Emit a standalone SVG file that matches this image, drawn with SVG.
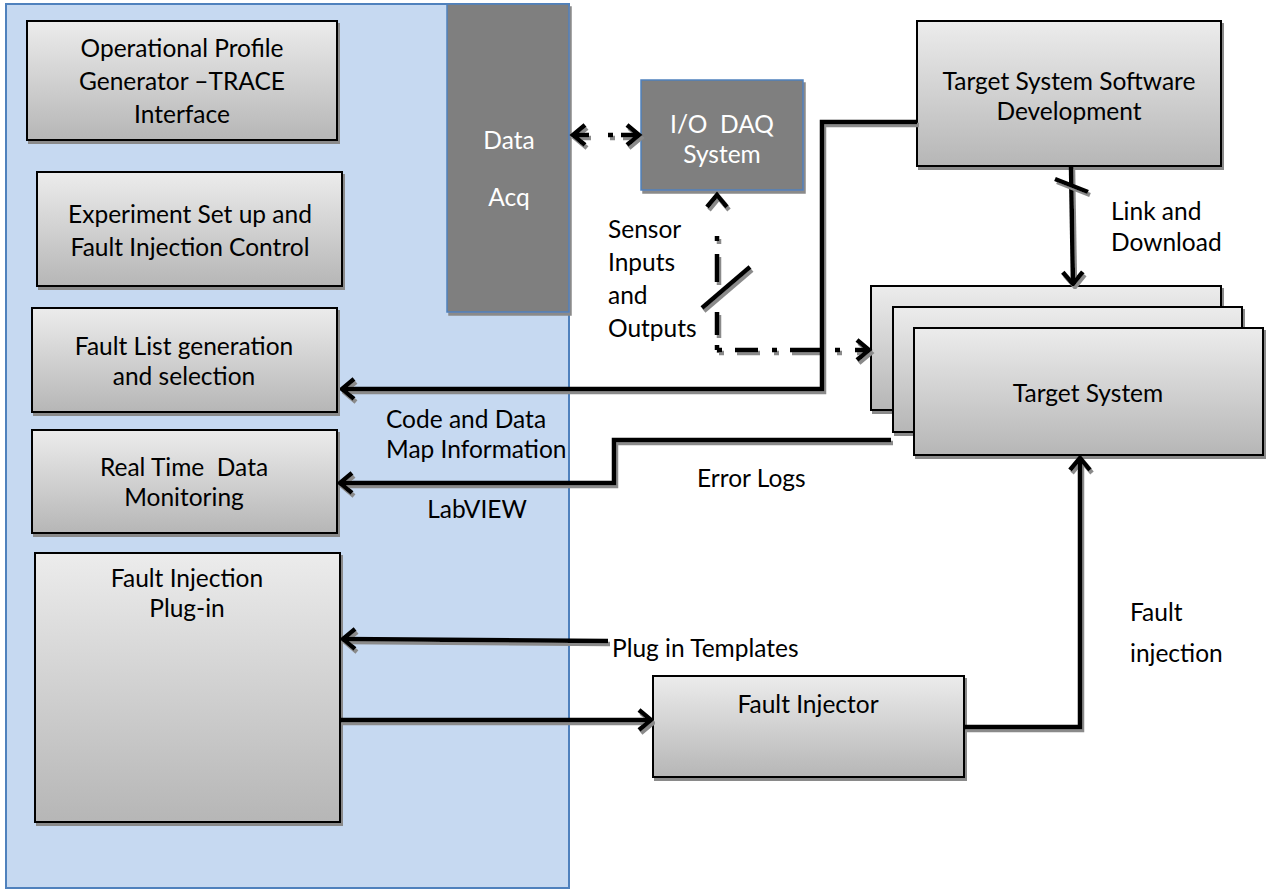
<svg xmlns="http://www.w3.org/2000/svg" width="1266" height="892" viewBox="0 0 1266 892">
<defs>
<linearGradient id="g" x1="0" y1="0" x2="0" y2="1"><stop offset="0" stop-color="#ececec"/><stop offset="1" stop-color="#b6b6b6"/></linearGradient>
<filter id="sh" filterUnits="userSpaceOnUse" x="0" y="0" width="1266" height="892"><feDropShadow dx="2" dy="3" stdDeviation="0.6" flood-color="#8a8a8a" flood-opacity="1"/></filter>
<marker id="ah" viewBox="-18 -14 20 28" refX="0" refY="0" markerWidth="20" markerHeight="28" markerUnits="userSpaceOnUse" orient="auto-start-reverse"><path d="M-12,-10 L0,0 L-12,10" fill="none" stroke="#000" stroke-width="4.5"/></marker>
<style>
.box{fill:url(#g);stroke:#000;stroke-width:2;filter:url(#sh)}
.dark{fill:#7f7f7f;stroke:#4f81bd;stroke-width:1.5}
.t{font-family:Lato,"Open Sans","Liberation Sans",sans-serif;font-size:24.5px;fill:#000}
.c{text-anchor:middle}
.w{fill:#fff}
.ln{fill:none;stroke:#000;stroke-width:4.5;filter:url(#sh)}
.dl{fill:none;stroke:#000;stroke-width:4.5;filter:url(#sh)}
</style>
</defs>
<g id="container"><rect x="6" y="4" width="563" height="884" fill="#c6d9f1" stroke="#4f81bd" stroke-width="2"/></g>
<g id="data-acq"><rect class="dark" x="447" y="4" width="122" height="308" filter="url(#sh)"/><text class="t c w" x="509" y="149">Data</text><text class="t c w" x="509" y="206">Acq</text></g>
<g id="op-profile"><rect class="box" x="27" y="21" width="310" height="119"/><text class="t c" x="182" y="57">Operational Profile</text><text class="t c" x="182" y="90">Generator –TRACE</text><text class="t c" x="182" y="123">Interface</text></g>
<g id="experiment"><rect class="box" x="37" y="172" width="305" height="114"/><text class="t c" x="190" y="223">Experiment Set up and</text><text class="t c" x="190" y="256">Fault Injection Control</text></g>
<g id="fault-list"><rect class="box" x="32" y="308" width="305" height="104"/><text class="t c" x="184" y="355">Fault List generation</text><text class="t c" x="184" y="385">and selection</text></g>
<g id="realtime"><rect class="box" x="32" y="430" width="305" height="103"/><text class="t c" x="184" y="476">Real Time&#160; Data</text><text class="t c" x="184" y="506">Monitoring</text></g>
<g id="plugin"><rect class="box" x="35" y="553" width="305" height="269"/><text class="t c" x="187" y="587">Fault Injection</text><text class="t c" x="187" y="617">Plug-in</text></g>
<g id="io-daq"><rect class="dark" x="641" y="80" width="162" height="110" filter="url(#sh)"/><text class="t c w" x="722" y="133">I/O&#160; DAQ</text><text class="t c w" x="722" y="163">System</text></g>
<g id="tssd"><rect class="box" x="917" y="21" width="304" height="145"/><text class="t c" x="1069" y="90">Target System Software</text><text class="t c" x="1069" y="120">Development</text></g>
<g id="target"><rect class="box" x="871" y="286" width="350" height="124"/><rect class="box" x="893" y="307" width="349" height="125"/><rect class="box" x="914" y="328" width="349" height="127"/><text class="t c" x="1088" y="402">Target System</text></g>
<g id="injector"><rect class="box" x="653" y="676" width="311" height="101"/><text class="t c" x="808" y="713">Fault Injector</text></g>
<g id="connectors">
<path class="dl" d="M574,135 L589,135 M608,135 L613,135 M621,135 L638,135 M585,125 L573,135 L585,145 M627,125 L639,135 L627,145"/>
<path class="dl" d="M717,350 L717,345 M717,335 L717,312 M717,282 L717,254 M717,241 L717,236 M717,198 L717,196 M707,207 L717,195 L727,207"/>
<path class="dl" d="M717,350 L722,350 M735,350 L758,350 M772,350 L777,350 M790,350 L820,350 M835,350 L840,350 M855,350 L868,350 M857,340 L869,350 L857,360"/>
<line x1="702" y1="308" x2="750" y2="267" stroke="#000" stroke-width="4.5" filter="url(#sh)"/>
<path class="ln" d="M917,122 L822,122 L822,389 L342,389" marker-end="url(#ah)"/>
<path class="ln" d="M891,440 L614,440 L614,483 L340,483" marker-end="url(#ah)"/>
<path class="ln" d="M1071,166 L1073,284" marker-end="url(#ah)"/>
<line x1="1055" y1="179" x2="1088" y2="192" stroke="#000" stroke-width="4.5" filter="url(#sh)"/>
<path class="ln" d="M608,641 L343,639" marker-end="url(#ah)"/>
<path class="ln" d="M340,720 L651,720" marker-end="url(#ah)"/>
<path class="ln" d="M964,727 L1080,727 L1080,458" marker-end="url(#ah)"/>
</g>
<g id="labels">
<text class="t" x="608" y="238">Sensor</text><text class="t" x="608" y="271">Inputs</text><text class="t" x="608" y="304">and</text><text class="t" x="608" y="337">Outputs</text>
<text class="t" x="386" y="428">Code and Data</text><text class="t" x="386" y="458">Map Information</text>
<text class="t" x="697" y="487">Error Logs</text>
<text class="t c" x="477" y="518">LabVIEW</text>
<text class="t" x="1111" y="220">Link and</text><text class="t" x="1111" y="251">Download</text>
<text class="t" x="612" y="657">Plug in Templates</text>
<text class="t" x="1130" y="621">Fault</text><text class="t" x="1130" y="662">injection</text>
</g>
</svg>
